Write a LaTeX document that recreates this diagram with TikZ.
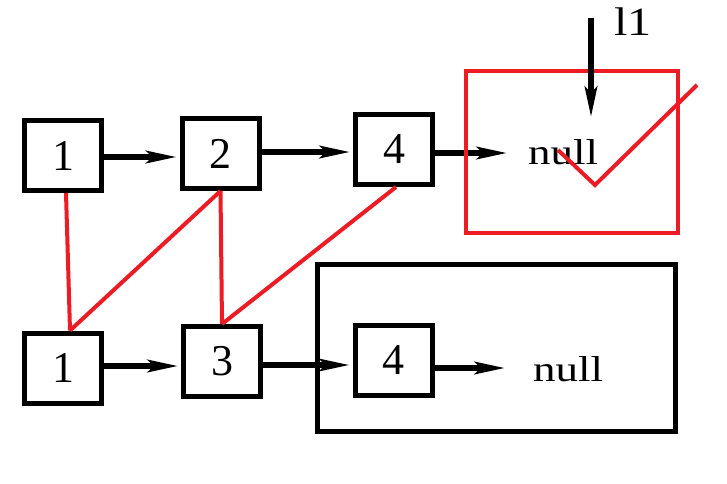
\documentclass[tikz,border=0pt]{standalone}
\usepackage{fontspec}
\setmainfont{Liberation Serif}
\usetikzlibrary{arrows.meta}
\begin{document}
\begin{tikzpicture}[x=1pt,y=-1pt,
  cell/.style={draw=black,line width=5pt,minimum width=77pt,minimum height=70pt,inner sep=0pt,font=\fontsize{44}{44}\selectfont},
  ptr/.style={line width=6.5pt,-{Stealth[length=32pt,width=10pt,inset=4pt]}},
  redl/.style={draw={rgb,255:red,237;green,28;blue,36},line width=4pt},
  nulltxt/.style={inner sep=0pt,font=\fontsize{36}{36}\selectfont}]
\useasboundingbox (0,0) rectangle (727,483);
\node[cell] (t1) at (63,155.5) {1};
\node[cell] (t2) at (220.5,153.5) {2};
\node[cell] (t4) at (394,149.5) {4};
\node[nulltxt,anchor=west] (tn) at (528,152) {\scalebox{1.25}[1]{null}};
\node[cell] (b1) at (63,368) {1};
\node[cell] (b3) at (222,361.5) {3};
\node[cell] (b4) at (393.5,360.5) {4};
\node[nulltxt,anchor=west] (bn) at (533,369) {\scalebox{1.25}[1]{null}};
\coordinate (tnend) at (512,153);
\coordinate (bnend) at (510,368);
\draw[ptr] (t1.east |- 0,157) -- ([xshift=2pt]t2.west |- 0,157);
\draw[ptr] (t2.east |- 0,152) -- ([xshift=2pt]t4.west |- 0,152);
\draw[ptr] (t4.east |- 0,153) -- (tnend);
\draw[ptr] (b1.east |- 0,366) -- ([xshift=2pt]b3.west |- 0,366);
\draw[ptr] (b3.east |- 0,365) -- ([xshift=2pt]b4.west |- 0,365);
\draw[ptr] (b4.east |- 0,368) -- (bnend);
% black enclosing box
\node[draw=black,line width=5pt,minimum width=358pt,minimum height=167pt,inner sep=0pt] (bigbox) at (496,347.5) {};
% red box and check
\node[redl,minimum width=212pt,minimum height=162pt,inner sep=0pt] (redbox) at (572,152) {};
\coordinate (c1) at (558,150);
\coordinate (c2) at (595,185);
\coordinate (c3) at (697,85);
\draw[redl] (c1) -- (c2) -- (c3);
% l1 pointer
\node[inner sep=0pt,font=\fontsize{40}{40}\selectfont] (l1) at (633,22) {\scalebox{1.2}[1]{l1}};
\coordinate (l1s) at (591,18);
\coordinate (l1e) at (591,122);
\draw[ptr] (l1s) -- (l1e);
% red cross links
\draw[redl] ([xshift=3pt]t1.south) -- ([xshift=7pt]b1.north);
\draw[redl] ([xshift=7pt]b1.north) -- (t2.south);
\draw[redl] (t2.south) -- (b3.north);
\draw[redl] (b3.north) -- ([xshift=2pt]t4.south);
\end{tikzpicture}
\end{document}
